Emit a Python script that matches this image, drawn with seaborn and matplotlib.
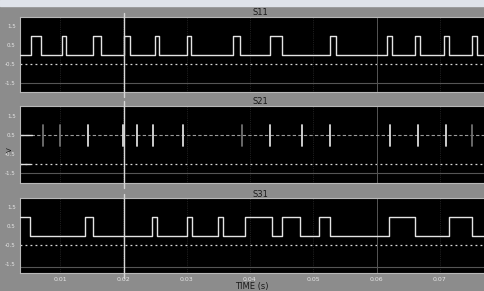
import numpy as np
import pandas as pd
import matplotlib
matplotlib.use("Agg")
import matplotlib.pyplot as plt
from matplotlib.patches import Rectangle
import seaborn as sns

# ---------------- data ----------------
panel_titles = ["S11", "S21", "S31"]
x_ticks = [0.01, 0.02, 0.03, 0.04, 0.05, 0.06, 0.07]
x_tick_labels = ["0.01", "0.02", "0.03", "0.04", "0.05", "0.06", "0.07"]
y_ticks = [-1.5, -0.5, 0.5, 1.5]
y_tick_labels = ["-1.5", "-0.5", "0.5", "1.5"]
t_start, t_end = 0.00368, 0.0795

# S11 gate pulses (rise / fall times, s)
s11_rise = [0.00542, 0.01032, 0.01521, 0.02011, 0.02500, 0.03005, 0.03732,
            0.04316, 0.05263, 0.06163, 0.06605, 0.07063, 0.07505]
s11_fall = [0.00700, 0.01095, 0.01647, 0.02105, 0.02563, 0.03068, 0.03842,
            0.04505, 0.05358, 0.06242, 0.06684, 0.07142, 0.07584]
s11_initial = 0

# S21 narrow spikes (s)
s21_spikes = [0.00732, 0.01000, 0.01442, 0.01995, 0.02216, 0.02468, 0.02942,
              0.03874, 0.04316, 0.04821, 0.05263, 0.06211, 0.06653, 0.07095,
              0.07505]
s21_bright = [0, 0, 1, 1, 1, 1, 1, 0, 1, 1, 1, 1, 1, 1, 0]

# S31 gate pulses (s)
s31_rise = [0.01395, 0.02453, 0.03005, 0.03495, 0.03921, 0.04505, 0.05089,
            0.06195, 0.07142]
s31_fall = [0.00526, 0.01521, 0.02532, 0.03084, 0.03574, 0.04347, 0.04789,
            0.05263, 0.06605, 0.07505]
s31_initial = 1

low_level, high_level = 0.0, 1.0
s21_base, s21_top, s21_bottom = 0.5, 1.0, -0.1
ref_dotted = [-0.5, -1.0, -0.5]
ref_faint = [-1.5, -1.5, -1.7]
cursor_t = 0.02011
marker_t = 0.06005


def square_wave(rises, falls, initial):
    events = sorted([(t, high_level) for t in rises] + [(t, low_level) for t in falls])
    level = high_level if initial else low_level
    xs, ys = [t_start], [level]
    for t, new in events:
        xs += [t, t]
        ys += [level, new]
        level = new
    xs.append(t_end)
    ys.append(level)
    return pd.DataFrame({"t": xs, "v": ys})


def spike_table(spikes, bright):
    rows = []
    for k, (t, b) in enumerate(zip(spikes, bright)):
        rows.append({"t": t, "v": s21_top, "unit": k, "b": b})
        rows.append({"t": t, "v": s21_bottom, "unit": k, "b": b})
    return pd.DataFrame(rows)


sq1 = square_wave(s11_rise, s11_fall, s11_initial)
sp2 = spike_table(s21_spikes, s21_bright)
sq3 = square_wave(s31_rise, s31_fall, s31_initial)

# ---------------- figure ----------------
sns.set_style("dark")
bg = "#8c8c8c"
fig = plt.figure(figsize=(4.84, 2.91), dpi=100, facecolor=bg)
fig.patches.append(Rectangle((0, 1 - 6 / 291), 1, 6 / 291, transform=fig.transFigure,
                             color="#dfe3ea", zorder=0))

H = 291.0
W = 484.0
tops = [17, 106, 198]
bottoms = [92, 183, 273]
left_px, right_px = 20, 500

axes = []
for i in range(3):
    ax = fig.add_axes([left_px / W, 1 - bottoms[i] / H, (right_px - left_px) / W,
                       (bottoms[i] - tops[i]) / H])
    ax.set_facecolor("black")
    axes.append(ax)
    for tx in x_ticks:
        ax.axvline(tx, color="#3a3a3a", lw=0.5, ls=":", zorder=1)
    ax.axhline(ref_dotted[i], color="#d8d8d8", lw=0.9, ls=(0, (1.5, 2.5)), zorder=2)
    ax.axhline(ref_faint[i], color="#555555", lw=0.8, zorder=2)
    ax.axvline(marker_t, color="#555555", lw=0.7, zorder=2)
    if i == 1:
        ax.axhline(s21_base, color="#9a9a9a", lw=0.8, ls=(0, (3, 2)), zorder=2)
        ax.axhline(s21_base, xmax=0.025, color="#e0e0e0", lw=1.0, zorder=2)
        ax.axhline(ref_dotted[i], xmax=0.02, color="#e0e0e0", lw=1.0, zorder=2)
        sns.lineplot(data=sp2, x="t", y="v", units="unit", hue="b",
                     palette={0: "#707070", 1: "#dcdcdc"}, legend=False,
                     ax=ax, sort=False, estimator=None, lw=1.3, zorder=3)
    else:
        df = sq1 if i == 0 else sq3
        sns.lineplot(data=df, x="t", y="v", ax=ax, sort=False, estimator=None,
                     color="#e4e4e4", lw=1.0, zorder=3)
    ax.axvline(cursor_t, ymin=-0.06, ymax=1.06, color="#d8d8d8", lw=1.0,
               clip_on=False, zorder=4)
    ax.set_xlim(t_start, t_end)
    ax.set_ylim(-2, 2)
    ax.set_yticks(y_ticks)
    ax.set_yticklabels(y_tick_labels, fontsize=4, color="#e6e6e6")
    ax.set_xticks(x_ticks)
    if i < 2:
        ax.set_xticklabels([])
    else:
        ax.set_xticklabels(x_tick_labels, fontsize=4.5, color="#e6e6e6")
    ax.tick_params(length=2, width=0.5, color="#cccccc", pad=1)
    ax.grid(False)
    ax.set_xlabel("")
    ax.set_ylabel("")
    for sp in ax.spines.values():
        sp.set_color("#b8b8b8")
        sp.set_linewidth(0.8)
    ax.set_title(panel_titles[i], fontsize=6, color="#1a1a1a", pad=1)

fig.text(252 / W, 1 - 286 / H, "TIME (s)", fontsize=6, color="#1a1a1a",
         ha="center", va="center")
fig.text(10 / W, 1 - 150 / H, "V", fontsize=5, color="#1a1a1a",
         ha="center", va="center", rotation=90)

fig.savefig("out.png", dpi=100, facecolor=bg)
